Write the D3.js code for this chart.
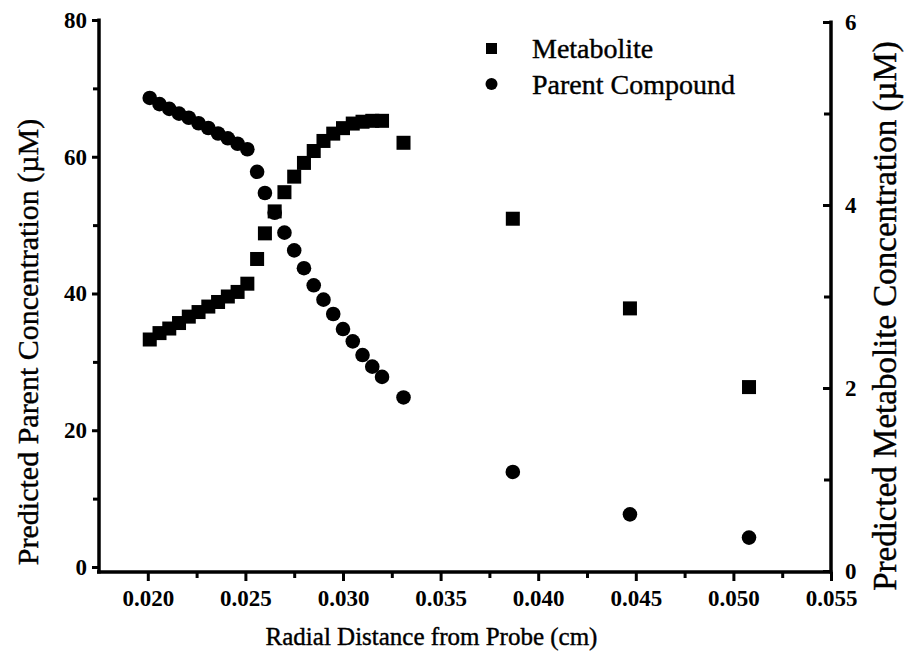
<!DOCTYPE html>
<html>
<head>
    <title>Predicted Concentrations vs Radial Distance</title>
    <script src="https://cdnjs.cloudflare.com/ajax/libs/d3/7.8.5/d3.min.js"></script>
    <style>
        body { margin: 0; background: #fff; }
        svg { display: block; }
        .axis path.domain { display: none; }
        .axis line { stroke: #000; stroke-width: 3; }
        .axis text { font-family: "Liberation Serif", "Times New Roman", serif; font-weight: bold; font-size: 23px; fill: #000; }
        .axis-line { stroke: #000; stroke-width: 3.5; }
        .title { font-family: "Liberation Serif", "Times New Roman", serif; fill: #000; stroke: #000; stroke-width: 0.4; }
    </style>
</head>
<body>
    <div id="chart"></div>
    <script>
        // values
        const radialDistance = [
            0.0201, 0.0206, 0.0211, 0.0216, 0.0221, 0.0226, 0.0231, 0.0236, 0.0241, 0.0246,
            0.0251, 0.0256, 0.0260, 0.0265, 0.0270, 0.0275, 0.0280, 0.0285, 0.0290, 0.0295,
            0.0300, 0.0305, 0.0310, 0.0315, 0.0320, 0.0331, 0.0387, 0.0447, 0.0508
        ];
        const parentConc = [
            68.6, 67.7, 67.0, 66.3, 65.7, 64.9, 64.2, 63.4, 62.7, 61.9,
            61.1, 57.8, 54.7, 51.8, 48.9, 46.3, 43.7, 41.2, 39.1, 37.0,
            34.8, 33.0, 31.0, 29.3, 27.8, 24.8, 13.9, 7.7, 4.3
        ];
        const metaboliteConc = [
            2.53, 2.60, 2.65, 2.71, 2.78, 2.83, 2.89, 2.94, 3.00, 3.05,
            3.14, 3.41, 3.69, 3.93, 4.14, 4.31, 4.46, 4.59, 4.70, 4.78,
            4.84, 4.89, 4.91, 4.92, 4.92, 4.68, 3.85, 2.87, 2.01
        ];

        const xTicks = [0.020, 0.025, 0.030, 0.035, 0.040, 0.045, 0.050, 0.055];
        const xMinorTicks = [0.0225, 0.0275, 0.0325, 0.0375, 0.0425, 0.0475, 0.0525];
        const leftTicks = [0, 20, 40, 60, 80];
        const leftMinorTicks = [10, 30, 50, 70];
        const rightTicks = [0, 2, 4, 6];
        const rightMinorTicks = [1, 3, 5];

        const width = 906, height = 664;

        const svg = d3.select('#chart')
            .append('svg')
            .attr('width', width)
            .attr('height', height);

        // scales
        const x = d3.scaleLinear().domain([0.0175, 0.055]).range([99, 831]);
        const yLeft = d3.scaleLinear().domain([0, 80]).range([567, 20]);
        const yRight = d3.scaleLinear().domain([0, 6]).range([571, 22]);
        const xAxisY = 572;

        // axis lines
        svg.append('line').attr('class', 'axis-line')
            .attr('x1', x.range()[0] - 2).attr('x2', x.range()[1] + 1.5)
            .attr('y1', xAxisY).attr('y2', xAxisY);
        svg.append('line').attr('class', 'axis-line')
            .attr('x1', x.range()[0]).attr('x2', x.range()[0])
            .attr('y1', yLeft(80) - 1.5).attr('y2', xAxisY + 1.5);
        svg.append('line').attr('class', 'axis-line')
            .attr('x1', x.range()[1]).attr('x2', x.range()[1])
            .attr('y1', yRight(6) - 1.5).attr('y2', xAxisY + 1.5);

        // bottom axis
        svg.append('g')
            .attr('class', 'axis')
            .attr('transform', `translate(0,${xAxisY})`)
            .call(d3.axisBottom(x).tickValues(xTicks).tickSize(9).tickPadding(9)
                .tickFormat(d3.format('.3f')));
        svg.append('g')
            .attr('class', 'axis')
            .attr('transform', `translate(0,${xAxisY})`)
            .call(d3.axisBottom(x).tickValues(xMinorTicks).tickSize(6).tickFormat(''));

        // left axis
        svg.append('g')
            .attr('class', 'axis')
            .attr('transform', `translate(${x.range()[0]},0)`)
            .call(d3.axisLeft(yLeft).tickValues(leftTicks).tickSize(7).tickPadding(5)
                .tickFormat(d3.format('d')));
        svg.append('g')
            .attr('class', 'axis')
            .attr('transform', `translate(${x.range()[0]},0)`)
            .call(d3.axisLeft(yLeft).tickValues(leftMinorTicks).tickSize(6).tickFormat(''));

        // right axis, ticks point inward
        svg.append('g')
            .attr('class', 'axis')
            .attr('transform', `translate(${x.range()[1]},0)`)
            .call(d3.axisRight(yRight).tickValues(rightTicks).tickSize(-8).tickPadding(14)
                .tickFormat(d3.format('d')));
        svg.append('g')
            .attr('class', 'axis')
            .attr('transform', `translate(${x.range()[1]},0)`)
            .call(d3.axisRight(yRight).tickValues(rightMinorTicks).tickSize(-7).tickFormat(''));

        // data points
        const points = radialDistance.map((d, i) => ({ r: d, parent: parentConc[i], metab: metaboliteConc[i] }));
        const sq = 14;

        svg.append('g').selectAll('circle')
            .data(points)
            .enter()
            .append('circle')
            .attr('cx', d => x(d.r))
            .attr('cy', d => yLeft(d.parent))
            .attr('r', 7.3)
            .attr('fill', '#000');

        svg.append('g').selectAll('rect')
            .data(points)
            .enter()
            .append('rect')
            .attr('x', d => x(d.r) - sq / 2)
            .attr('y', d => yRight(d.metab) - sq / 2)
            .attr('width', sq)
            .attr('height', sq)
            .attr('fill', '#000');

        // legend
        const legend = svg.append('g');
        legend.append('rect')
            .attr('x', 486).attr('y', 43).attr('width', 11).attr('height', 11)
            .attr('fill', '#000');
        legend.append('circle')
            .attr('cx', 491.5).attr('cy', 84).attr('r', 6)
            .attr('fill', '#000');
        legend.append('text')
            .attr('class', 'title')
            .attr('x', 532).attr('y', 58)
            .style('font-size', '28px')
            .text('Metabolite');
        legend.append('text')
            .attr('class', 'title')
            .attr('x', 532).attr('y', 94)
            .style('font-size', '28px')
            .text('Parent Compound');

        // axis titles
        svg.append('text')
            .attr('class', 'title')
            .attr('x', (263 + 600) / 2).attr('y', 645)
            .attr('text-anchor', 'middle')
            .style('font-size', '25px')
            .text('Radial Distance from Probe (cm)');

        svg.append('text')
            .attr('class', 'title')
            .attr('transform', 'translate(38,342) rotate(-90)')
            .attr('text-anchor', 'middle')
            .style('font-size', '30px')
            .text('Predicted Parent Concentration (\u00b5M)');

        svg.append('text')
            .attr('class', 'title')
            .attr('transform', 'translate(896,316) rotate(-90)')
            .attr('text-anchor', 'middle')
            .style('font-size', '33px')
            .text('Predicted Metabolite Concentration (\u00b5M)');
    </script>
</body>
</html>
